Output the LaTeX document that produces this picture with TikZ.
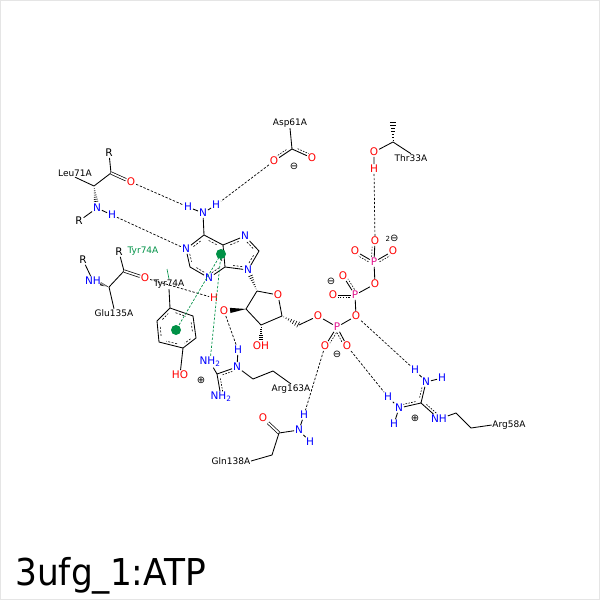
\documentclass[tikz,border=0pt]{standalone}
\usepackage{fontspec}
\setmainfont{DejaVu Sans}
\newfontfamily\titlefont[FakeStretch=0.93]{DejaVu Sans}
\usetikzlibrary{calc}
\definecolor{phos}{RGB}{225,20,140}
\definecolor{pigreen}{RGB}{0,145,70}

\tikzset{
  atm/.style={inner sep=0.8pt, font=\fontsize{10.5}{11}\selectfont},
  oatm/.style={atm, text=red},
  natm/.style={atm, text=blue},
  patm/.style={atm, text=phos},
  res/.style={inner sep=0.6pt, font=\fontsize{9}{10}\selectfont},
  chg/.style={inner sep=0pt, font=\fontsize{10}{10}\selectfont},
  bond/.style={line width=0.85pt},
  dbl/.style={line width=0.7pt, double, double distance=1.7pt},
  hbond/.style={line width=0.7pt, dash pattern=on 2.4pt off 1.6pt},
  pibond/.style={hbond, draw=pigreen},
  pidot/.style={circle, fill=pigreen, inner sep=0pt, minimum size=10pt},
  partnerline/.style={line width=0.6pt, dash pattern=on 1.6pt off 1.3pt, shorten <=5pt, shorten >=5pt},
  ringline/.style={line width=0.6pt, dash pattern=on 2pt off 1.5pt}
}

% hashed wedge, narrow at #1
\newcommand{\hashw}[4]{%
  \foreach \i in {0,...,6}{%
    \pgfmathsetmacro{\hf}{#3+(#4-#3)*\i/6}%
    \draw[line width=0.6pt] ($(#1)!\hf!(#2)!{\hf*3.2pt}!90:(#2)$) -- ($(#1)!\hf!(#2)!{\hf*3.2pt}!-90:(#2)$);
  }}
% dashed second line of a delocalised bond
\newcommand{\partner}[3]{%
  \draw[partnerline] ($(#1)!{#3*2.6pt}!90:(#2)$) -- ($(#2)!{#3*2.6pt}!-90:(#1)$);}
% dashed inner line of an aromatic ring
\newcommand{\ringin}[3]{%
  \draw[ringline] ($(#1)!0.24!(#2)!2.8pt!(#3)$) -- ($(#2)!0.24!(#1)!2.8pt!(#3)$);}

\begin{document}
\begin{tikzpicture}[x=1pt,y=-1pt]
\useasboundingbox (0,0) rectangle (600,600);
\draw[black!10] (0.5,0.5) rectangle (599.5,599.5);

% Leu71A
\node[res] (leu) at (75,173) {Leu71A};
\coordinate (leuca) at (94,186);
\coordinate (leuc) at (111,173);
\node[atm] (leur1) at (109,153) {R};
\node[oatm] (leuo) at (131,182) {O};
\node[natm] (leun) at (97,208) {N};
\node[natm] (leuh) at (112,215) {H};
\node[atm] (leur2) at (79,221) {R};
\draw[bond] (leu.south) -- (leuca) -- (leuc) -- (leur1);
\draw[dbl] (leuc) -- (leuo);
\hashw{leuca}{leun}{0.12}{0.7}
\draw[bond] (leur2) -- (leun) -- (leuh);

% adenine
\node[natm] (n6) at (203,213) {N};
\node[natm] (n6ha) at (188,207) {H};
\node[natm] (n6hb) at (216,205) {H};
\coordinate (c6) at (204,235);
\node[natm] (n1) at (186,249) {N};
\coordinate (c2) at (190,267);
\node[natm] (n3) at (209,278) {N};
\coordinate (c4) at (225,267);
\coordinate (c5) at (223,245);
\node[natm] (n7) at (245,236) {N};
\coordinate (c8) at (259,251);
\node[natm] (n9) at (248,270) {N};
\coordinate (ade6) at (206,257);
\coordinate (ade5) at (240,254);
\draw[bond] (n6ha) -- (n6) -- (n6hb);
\draw[bond] (n6) -- (c6) -- (n1) -- (c2) -- (n3) -- (c4) -- (c5) -- (c6);
\draw[bond] (c5) -- (n7) -- (c8) -- (n9) -- (c4);
\foreach \a/\b in {c6/n1, n1/c2, c2/n3, n3/c4, c4/c5, c5/c6}{\ringin{\a}{\b}{ade6}}
\foreach \a/\b in {c5/n7, n7/c8, c8/n9, n9/c4}{\ringin{\a}{\b}{ade5}}

% ribose
\coordinate (c1r) at (257,291);
\node[oatm] (o4r) at (278,295) {O};
\coordinate (c4r) at (282,316);
\coordinate (c3r) at (261,325);
\coordinate (c2r) at (246,309);
\node[oatm] (o2r) at (224,311) {O};
\node[oatm] (o2h) at (214,298) {H};
\node[oatm] (o3r) at (261,346) {OH};
\coordinate (c5r) at (299,325);
\node[oatm] (o5r) at (318,316) {O};
\draw[bond] (c1r) -- (o4r) -- (c4r) -- (c3r) -- (c2r) -- (c1r);
\hashw{c1r}{n9}{0.1}{0.72}
\fill (c2r) -- ($(c2r)!0.72!(o2r)!2.6pt!90:(o2r)$) -- ($(c2r)!0.72!(o2r)!2.6pt!-90:(o2r)$) -- cycle;
\hashw{c3r}{o3r}{0.12}{0.68}
\hashw{c4r}{c5r}{0.1}{0.95}
\draw[bond] (c5r) -- (o5r);

% phosphates
\node[patm] (pa) at (337,327) {P};
\node[oatm] (oab) at (356,316) {O};
\node[oatm] (oa1) at (325,346) {O};
\node[oatm] (oa2) at (347,346) {O};
\node[chg] (qa) at (337,354) {⊖};
\node[patm] (pb) at (355,295) {P};
\node[oatm] (ob1) at (343,276) {O};
\node[oatm] (ob2) at (333,295) {O};
\node[chg] (qb) at (331,281) {⊖};
\node[oatm] (obg) at (375,284) {O};
\node[patm] (pg) at (374,262) {P};
\node[oatm] (og1) at (375,241) {O};
\node[oatm] (og2) at (355,251) {O};
\node[oatm] (og3) at (393,251) {O};
\node[chg] (qg) at (392,238) {{\fontsize{7}{7}\selectfont 2}⊖};
\draw[bond] (o5r) -- (pa) -- (oab) -- (pb) -- (obg) -- (pg);
\draw[bond] (pa) -- (oa1); \partner{pa}{oa1}{1}
\draw[bond] (pa) -- (oa2); \partner{pa}{oa2}{-1}
\draw[bond] (pb) -- (ob1); \partner{pb}{ob1}{-1}
\draw[bond] (pb) -- (ob2); \partner{pb}{ob2}{1}
\draw[bond] (pg) -- (og1); \partner{pg}{og1}{1}
\draw[bond] (pg) -- (og2); \partner{pg}{og2}{1}
\draw[bond] (pg) -- (og3); \partner{pg}{og3}{-1}

% Thr33A
\node[oatm] (thro) at (374,152) {O};
\node[oatm] (thrh) at (374,169) {H};
\coordinate (thrcb) at (393,142);
\coordinate (thrcg) at (393,121);
\node[res] (thr) at (411,158) {Thr33A};
\draw[bond] (thrh) -- (thro) -- (thrcb) -- (thr.north);
\hashw{thrcb}{thrcg}{0.1}{0.95}

% Asp61A
\node[res] (asp) at (290,123) {Asp61A};
\coordinate (aspc) at (292,149);
\node[oatm] (aspo1) at (274,161) {O};
\node[oatm] (aspo2) at (312,158) {O};
\node[chg] (aspq) at (294,166) {⊖};
\draw[bond] (asp.south) -- (aspc);
\draw[bond] (aspo1) -- (aspc) -- (aspo2);
\partner{aspc}{aspo1}{-1}
\partner{aspc}{aspo2}{1}

% Glu135A
\node[atm] (glur1) at (119,252) {R};
\coordinate (gluc) at (124,271);
\node[oatm] (gluo) at (145,278) {O};
\coordinate (gluca) at (109,287);
\node[natm] (glun) at (93,281) {NH};
\node[atm] (glur2) at (83,260) {R};
\node[res] (glu) at (114,313) {Glu135A};
\draw[bond] (glur1) -- (gluc) -- (gluca) -- (glu.north);
\draw[dbl] (gluc) -- (gluo);
\hashw{gluca}{glun}{0.1}{0.52}
\draw[bond] (glur2) -- (glun);

% Tyr74A
\node[res, text=pigreen] (tyrlab) at (143,251) {Tyr74A};
\node[res] (tyr) at (169,284) {Tyr74A};
\coordinate (tyrtick) at (167,269);
\coordinate (ty1) at (170,308);
\coordinate (ty2) at (193,316);
\coordinate (ty3) at (196,338);
\coordinate (ty4) at (183,348);
\coordinate (ty5) at (159,342);
\coordinate (ty6) at (157,321);
\coordinate (tyc) at (176,329);
\node[oatm] (tyroh) at (180,375) {HO};
\draw[pigreen, line width=0.6pt] (tyrtick) -- (tyr.north);
\draw[bond] (tyr.south) -- (ty1);
\draw[bond] (ty1) -- (ty2) -- (ty3) -- (ty4) -- (ty5) -- (ty6) -- cycle;
\foreach \a/\b in {ty1/ty2, ty2/ty3, ty3/ty4, ty4/ty5, ty5/ty6, ty6/ty1}{\ringin{\a}{\b}{tyc}}
\draw[bond] (ty4) -- (tyroh);

% Arg163A
\node[natm] (r163n1) at (210,362) {NH\textsubscript{2}};
\coordinate (r163c) at (217,374);
\node[natm] (r163n2) at (221,397) {NH\textsubscript{2}};
\node[natm] (r163ne) at (237,367) {N};
\node[natm] (r163h) at (238,350) {H};
\node[chg] (r163q) at (201,380) {⊕};
\coordinate (r163cd) at (253,379);
\coordinate (r163cg) at (273,371);
\node[res] (arg163) at (291,389) {Arg163A};
\draw[bond] (r163n1) -- (r163c) -- (r163n2);
\draw[bond] (r163c) -- (r163ne) -- (r163h);
\partner{r163c}{r163ne}{-1}
\partner{r163c}{r163n2}{1}
\draw[bond] (r163ne) -- (r163cd) -- (r163cg) -- (arg163.north);

% Gln138A
\node[oatm] (glno) at (263,418) {O};
\coordinate (glnc) at (279,433);
\node[natm] (glnn) at (299,430) {N};
\node[natm] (glnh1) at (304,415) {H};
\node[natm] (glnh2) at (310,442) {H};
\coordinate (glncb) at (272,455);
\node[res] (gln) at (231,461) {Gln138A};
\draw[dbl] (glnc) -- (glno);
\draw[bond] (glnc) -- (glnn) -- (glnh1);
\draw[bond] (glnn) -- (glnh2);
\draw[bond] (glnc) -- (glncb) -- (gln.east);

% Arg58A
\node[natm] (r58h1) at (415,370) {H};
\node[natm] (r58n1) at (426,382) {N};
\node[natm] (r58h2) at (442,378) {H};
\coordinate (r58c) at (421,403);
\node[natm] (r58n2) at (399,408) {N};
\node[natm] (r58h3) at (388,397) {H};
\node[natm] (r58h4) at (394,424) {H};
\node[natm] (r58ne) at (439,419) {NH};
\node[chg] (r58q) at (415,418) {⊕};
\coordinate (r58cd) at (456,413);
\coordinate (r58cg) at (471,428);
\node[res] (arg58) at (509,425) {Arg58A};
\draw[bond] (r58n1) -- (r58c) -- (r58n2);
\draw[bond] (r58c) -- (r58ne);
\partner{r58c}{r58n1}{1}
\partner{r58c}{r58n2}{-1}
\partner{r58c}{r58ne}{1}
\draw[bond] (r58h1) -- (r58n1) -- (r58h2);
\draw[bond] (r58h3) -- (r58n2) -- (r58h4);
\draw[bond] (r58ne) -- (r58cd) -- (r58cg) -- (arg58.west);

% hydrogen bonds
\draw[hbond] (leuo) -- (n6ha);
\draw[hbond] (leuh) -- (n1);
\draw[hbond] (aspo1) -- (n6hb);
\draw[hbond] (thrh) -- (og1);
\draw[hbond] (gluo) -- (o2h);
\draw[hbond] (o2r) -- (r163h);
\draw[hbond] (oa1) -- (glnh1);
\draw[hbond] (oab) -- (r58h1);
\draw[hbond] (oa2) -- (r58h3);

% pi contacts
\coordinate (adot) at (221,254);
\coordinate (tdot) at (176,330);
\draw[pibond] (adot) -- (tdot);
\draw[pibond] (adot) -- (r163n1);
\node[pidot] (adotn) at (adot) {};
\node[pidot] (tdotn) at (tdot) {};

% title
\node[anchor=base west, inner sep=0pt, font=\titlefont\fontsize{37}{40}\selectfont] (title) at (15,585) {3ufg\_1:ATP};
\end{tikzpicture}
\end{document}
